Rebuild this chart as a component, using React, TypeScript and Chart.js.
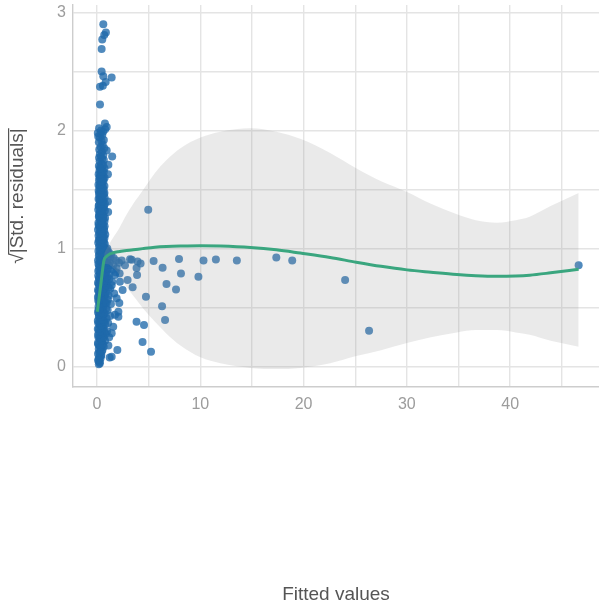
import React, { useEffect, useRef } from "react";
import { Chart, registerables } from "chart.js";

Chart.register(...registerables);

// Observations with small fitted values: [fitted, sqrt(|std. residual|)]
const lowFittedPoints: [number, number][] = [
  [0.18, 0.02], [0.26, 0.04], [0.12, 0.05], [0.34, 0.07], [0.21, 0.08], [0.42, 0.1], [0.1, 0.11], [0.3, 0.12], [0.52, 0.14], [0.17, 0.15],
  [0.4, 0.16], [0.65, 0.17], [0.24, 0.18], [0.09, 0.2], [0.5, 0.21], [0.78, 0.22], [0.33, 0.23], [0.14, 0.25], [0.6, 0.26], [0.44, 0.27],
  [0.86, 0.28], [0.2, 0.29], [0.7, 0.3], [0.08, 0.32], [0.38, 0.33], [0.55, 0.34], [0.27, 0.35], [0.8, 0.36], [0.12, 0.37], [0.47, 0.38],
  [0.66, 0.39], [0.31, 0.4], [0.93, 0.41], [0.18, 0.42], [0.58, 0.43], [0.41, 0.44], [0.75, 0.45], [0.1, 0.46], [0.26, 0.47], [0.5, 0.48],
  [0.88, 0.49], [0.36, 0.5], [0.15, 0.51], [0.63, 0.52], [0.45, 0.53], [0.82, 0.54], [0.22, 0.55], [0.55, 0.56], [1.05, 0.57], [0.33, 0.58],
  [0.09, 0.59], [0.72, 0.6], [0.48, 0.61], [0.27, 0.62], [0.9, 0.63], [0.16, 0.64], [0.6, 0.65], [0.4, 0.66], [1.12, 0.67], [0.78, 0.68],
  [0.23, 0.69], [0.52, 0.7], [0.1, 0.71], [0.95, 0.72], [0.36, 0.73], [0.68, 0.74], [0.19, 0.75], [0.83, 0.76], [0.46, 0.77], [1.2, 0.78],
  [0.29, 0.79], [0.62, 0.8], [0.12, 0.81], [1.0, 0.82], [0.41, 0.83], [0.74, 0.84], [0.2, 0.85], [1.15, 0.86], [0.55, 0.87], [0.88, 0.88],
  [0.32, 0.89], [0.1, 0.9], [0.66, 0.91], [1.25, 0.92], [0.44, 0.93], [0.8, 0.94], [0.24, 0.95], [1.08, 0.96], [0.57, 0.97], [0.14, 0.98],
  [0.92, 0.99], [0.38, 1.0], [0.7, 1.01], [0.2, 1.02], [0.5, 1.03], [0.76, 1.04], [0.12, 1.05], [0.36, 1.06], [0.62, 1.07], [0.26, 1.08],
  [0.72, 1.09], [0.45, 1.1], [0.15, 1.11], [0.8, 1.12], [0.56, 1.13], [0.32, 1.14], [0.7, 1.15], [0.1, 1.16], [0.48, 1.17], [0.22, 1.18],
  [0.74, 1.19], [0.6, 1.2], [0.38, 1.21], [0.14, 1.22], [0.72, 1.23], [0.5, 1.24], [0.28, 1.25], [0.78, 1.26], [0.18, 1.27], [0.62, 1.28],
  [0.42, 1.29], [1.08, 1.31], [0.24, 1.3], [0.76, 1.32], [0.12, 1.33], [0.54, 1.34], [0.34, 1.35], [0.68, 1.36], [0.2, 1.37], [0.76, 1.38],
  [0.46, 1.39], [0.28, 1.4], [1.06, 1.4], [0.6, 1.41], [0.15, 1.42], [0.74, 1.43], [0.4, 1.44], [0.22, 1.45], [0.55, 1.46], [0.72, 1.47],
  [0.32, 1.48], [0.16, 1.49], [0.64, 1.5], [0.42, 1.51], [0.25, 1.52], [0.72, 1.53], [0.14, 1.54], [0.52, 1.55], [0.34, 1.56], [0.62, 1.57],
  [0.2, 1.58], [0.45, 1.59], [0.74, 1.6], [0.28, 1.61], [0.56, 1.62], [1.06, 1.63], [0.16, 1.63], [0.38, 1.64], [0.66, 1.65], [0.24, 1.66],
  [0.5, 1.67], [0.72, 1.68], [0.32, 1.69], [1.1, 1.71], [0.18, 1.7], [0.58, 1.71], [0.42, 1.72], [0.26, 1.74], [0.66, 1.75], [0.5, 1.76],
  [0.2, 1.77], [1.47, 1.78], [0.38, 1.78], [0.6, 1.79], [0.28, 1.8], [0.48, 1.82], [0.94, 1.83], [0.22, 1.84], [0.7, 1.85], [0.36, 1.86],
  [0.55, 1.88], [0.18, 1.9], [0.44, 1.91], [0.66, 1.92], [0.28, 1.94], [0.12, 1.95], [0.5, 1.96], [0.34, 1.97], [0.08, 1.98], [0.6, 1.99],
  [0.4, 2.0], [0.79, 2.01], [0.94, 2.03], [0.2, 2.02], [0.77, 2.06], [0.29, 2.22], [0.29, 2.37], [0.57, 2.38], [0.84, 2.41], [1.42, 2.45],
  [0.61, 2.46], [0.45, 2.5], [0.45, 2.69], [0.51, 2.77], [0.7, 2.81], [0.86, 2.83], [0.61, 2.9],
];

// Further observations inside the dense low-fitted column
const lowFittedDense: [number, number][] = [
  [0.28, 0.03], [0.14, 0.06], [0.38, 0.09], [0.22, 0.12], [0.46, 0.13], [0.3, 0.17], [0.12, 0.19], [0.58, 0.19], [0.42, 0.22], [0.26, 0.24],
  [0.68, 0.25], [0.1, 0.27], [0.52, 0.29], [0.35, 0.3], [0.18, 0.32], [0.62, 0.33], [0.44, 0.35], [0.24, 0.37], [0.74, 0.38], [0.08, 0.39],
  [0.54, 0.4], [0.36, 0.42], [0.2, 0.44], [0.66, 0.45], [0.46, 0.46], [0.14, 0.48], [0.6, 0.49], [0.3, 0.5], [0.5, 0.51], [0.26, 0.53],
  [0.72, 0.55], [0.12, 0.56], [0.4, 0.57], [0.62, 0.59], [0.2, 0.6], [0.82, 0.61], [0.34, 0.62], [0.54, 0.63], [0.1, 0.65], [0.7, 0.66],
  [0.28, 0.67], [0.48, 0.68], [0.92, 0.69], [0.16, 0.7], [0.62, 0.71], [0.38, 0.72], [0.8, 0.73], [0.24, 0.74], [0.54, 0.75], [1.02, 0.76],
  [0.12, 0.77], [0.7, 0.78], [0.36, 0.79], [0.88, 0.8], [0.5, 0.81], [0.22, 0.82], [1.1, 0.83], [0.6, 0.84], [0.32, 0.85], [0.78, 0.86],
  [0.14, 0.87], [0.98, 0.88], [0.46, 0.89], [0.72, 0.9], [0.26, 0.91], [1.05, 0.92], [0.56, 0.93], [0.18, 0.94], [0.9, 0.95], [0.4, 0.96],
  [0.68, 0.97], [0.28, 0.99], [1.0, 1.0], [0.58, 1.01], [0.3, 1.03], [0.66, 1.05], [0.18, 1.07], [0.5, 1.08], [0.36, 1.1], [0.62, 1.11],
  [0.22, 1.13], [0.44, 1.15], [0.66, 1.17], [0.3, 1.19], [0.16, 1.2], [0.52, 1.22], [0.36, 1.24], [0.62, 1.26], [0.2, 1.28], [0.48, 1.3],
  [0.3, 1.32], [0.64, 1.34], [0.16, 1.36], [0.4, 1.38], [0.56, 1.4], [0.26, 1.42], [0.46, 1.45], [0.66, 1.46], [0.2, 1.47], [0.38, 1.5],
  [0.56, 1.52], [0.3, 1.54], [0.44, 1.57], [0.62, 1.59], [0.24, 1.6], [0.36, 1.63], [0.52, 1.65], [0.3, 1.68],
];

// Observations spreading out towards larger fitted values
const spreadPoints: [number, number][] = [
  [1.13, 0.97], [1.37, 0.95], [1.61, 0.92], [1.85, 0.9], [2.14, 0.88], [1.23, 0.88], [1.52, 0.82], [1.81, 0.8], [2.19, 0.79], [1.18, 0.74],
  [1.47, 0.72], [1.27, 0.66], [1.13, 0.6], [1.66, 0.62], [1.03, 0.48], [1.27, 0.43], [1.08, 0.37], [1.18, 0.25], [0.98, 0.3],
  [0.94, 0.54], [1.35, 0.53], [1.9, 0.58], [1.42, 0.69], [1.74, 0.776], [1.9, 0.833], [2.71, 0.86], [1.57, 0.86], [2.39, 0.9], [2.22, 0.72],
  [2.16, 0.54], [1.74, 0.44], [2.07, 0.423], [2.07, 0.466], [1.57, 0.339], [1.42, 0.283], [1.1, 0.18], [1.97, 0.141], [1.42, 0.085], [1.23, 0.078],
  [3.2, 0.91], [3.35, 0.905], [3.93, 0.89], [4.22, 0.875], [3.83, 0.835], [3.88, 0.776], [2.96, 0.734], [3.45, 0.672], [2.48, 0.65], [4.74, 0.593],
  [3.83, 0.38], [4.55, 0.353], [4.41, 0.21], [5.23, 0.126], [4.96, 1.33], [5.48, 0.895], [6.35, 0.838], [7.94, 0.913], [8.13, 0.79], [6.73, 0.7],
  [7.65, 0.654], [6.3, 0.512], [6.59, 0.395], [9.82, 0.762], [10.31, 0.9], [11.51, 0.907], [13.54, 0.9], [17.36, 0.925], [18.9, 0.9],
  [24.02, 0.735], [26.34, 0.305], [46.63, 0.86],
];

// Loess smoother and its confidence band
const smoothX = [0.03, 0.36, 0.675, 0.936, 1.255, 1.574, 2.066, 2.675, 3.515, 4.41, 5.61, 6.73, 8.08, 10.02, 11.95, 14.85, 17.36, 19.68, 22.57, 25.09, 27.5, 30.01, 32.33, 34.84, 36.68, 38.71, 40.54, 41.89, 43.92, 46.63];
const smoothFit = [0.465, 0.69, 0.9, 0.935, 0.955, 0.965, 0.974, 0.982, 0.99, 1.0, 1.012, 1.018, 1.022, 1.025, 1.022, 1.01, 0.99, 0.962, 0.925, 0.885, 0.85, 0.82, 0.8, 0.78, 0.77, 0.765, 0.768, 0.775, 0.795, 0.825];
const bandLower = [0.44, 0.665, 0.865, 0.87, 0.86, 0.835, 0.79, 0.7, 0.6, 0.5, 0.38, 0.28, 0.18, 0.08, 0.03, -0.01, -0.02, -0.01, 0.03, 0.09, 0.14, 0.2, 0.25, 0.29, 0.31, 0.31, 0.29, 0.27, 0.22, 0.17];
const bandUpper = [0.49, 0.715, 0.935, 1.0, 1.05, 1.095, 1.16, 1.26, 1.38, 1.49, 1.64, 1.75, 1.85, 1.94, 1.99, 2.02, 1.99, 1.93, 1.81, 1.68, 1.57, 1.48, 1.38, 1.29, 1.24, 1.22, 1.24, 1.27, 1.36, 1.47];

const xLabelTicks = [0, 10, 20, 30, 40];
const yLabelTicks = [0, 1, 2, 3];

const W = 599;
const H = 610;
const FONT = '"Liberation Sans", Arial, Helvetica, sans-serif';
const PLOT_LEFT = 73;
const PLOT_TOP = 5;
const PLOT_BOTTOM = 386.7;
const X_MIN = -2.323;
const X_MAX = 48.6;
const Y_MIN = -0.1693;
const Y_MAX = 3.063;

const GRID = "#e4e4e4";
const AXIS = "#cdcdcd";
const TICK_TEXT = "#9c9c9c";
const TITLE_TEXT = "#555555";

// y-axis title: radical sign with a vinculum over "|Std. residuals|"
const rootTitlePlugin = {
  id: "rootResidualTitle",
  afterDraw(chart: Chart) {
    const ctx = chart.ctx;
    const fs = 19;
    ctx.save();
    ctx.translate(23, 196);
    ctx.rotate(-Math.PI / 2);
    ctx.font = `${fs}px ${FONT}`;
    ctx.fillStyle = TITLE_TEXT;
    ctx.textAlign = "left";
    ctx.textBaseline = "alphabetic";
    const rad = "\u221A";
    const body = "|Std. residuals|";
    const wr = ctx.measureText(rad).width;
    const wb = ctx.measureText(body).width;
    const x0 = -(wr + wb) / 2;
    ctx.fillText(rad, x0, 0);
    ctx.fillText(body, x0 + wr, 0);
    const top = -ctx.measureText(rad).actualBoundingBoxAscent;
    ctx.strokeStyle = TITLE_TEXT;
    ctx.lineWidth = 1.2;
    ctx.beginPath();
    ctx.moveTo(x0 + wr - 1, top + 0.6);
    ctx.lineTo(x0 + wr + wb, top + 0.6);
    ctx.stroke();
    ctx.restore();
  },
};

export default function App() {
  const canvasRef = useRef<HTMLCanvasElement | null>(null);

  useEffect(() => {
    if (!canvasRef.current) return;
    const pts = [...lowFittedPoints, ...lowFittedDense, ...spreadPoints].map(([x, y]) => ({ x, y }));
    const chart = new Chart(canvasRef.current, {
      type: "scatter",
      data: {
        datasets: [
          {
            type: "line",
            data: smoothX.map((x, i) => ({ x, y: bandUpper[i] })),
            borderWidth: 0,
            pointRadius: 0,
            fill: "+1",
            backgroundColor: "rgba(150,150,150,0.2)",
            cubicInterpolationMode: "monotone",
            order: 1,
          },
          {
            type: "line",
            data: smoothX.map((x, i) => ({ x, y: bandLower[i] })),
            borderWidth: 0,
            pointRadius: 0,
            fill: false,
            cubicInterpolationMode: "monotone",
            order: 1,
          },
          {
            type: "line",
            data: smoothX.map((x, i) => ({ x, y: smoothFit[i] })),
            borderColor: "#3aa67f",
            borderWidth: 3,
            pointRadius: 0,
            fill: false,
            cubicInterpolationMode: "monotone",
            order: 0,
          },
          {
            type: "scatter",
            data: pts,
            pointRadius: 4,
            pointBackgroundColor: "rgba(31,105,170,0.78)",
            pointBorderWidth: 0,
            order: 2,
          },
        ],
      },
      options: {
        responsive: false,
        animation: false,
        events: [],
        layout: { autoPadding: false, padding: { top: PLOT_TOP, right: 0, bottom: 0, left: 0 } },
        plugins: { legend: { display: false }, tooltip: { enabled: false } },
        scales: {
          x: {
            type: "linear",
            min: X_MIN,
            max: X_MAX,
            afterFit(scale: any) {
              scale.height = H - PLOT_BOTTOM;
              scale.paddingLeft = 0;
              scale.paddingRight = 0;
            },
            grid: { color: GRID, lineWidth: 1.4, drawTicks: false },
            border: { display: true, color: AXIS, width: 1.4 },
            ticks: {
              stepSize: 5,
              autoSkip: false,
              includeBounds: false,
              maxRotation: 0,
              padding: 8,
              color: TICK_TEXT,
              font: { family: FONT, size: 16 },
              callback: (v: any) => (xLabelTicks.includes(Number(v)) ? String(v) : ""),
            },
            title: {
              display: true,
              text: "Fitted values",
              color: TITLE_TEXT,
              font: { family: FONT, size: 19 },
              padding: { top: 0, bottom: 3.6 },
            },
          },
          y: {
            type: "linear",
            min: Y_MIN,
            max: Y_MAX,
            afterFit(scale: any) {
              scale.width = PLOT_LEFT;
              scale.paddingTop = 0;
              scale.paddingBottom = 0;
            },
            grid: { color: GRID, lineWidth: 1.4, drawTicks: false },
            border: { display: true, color: AXIS, width: 1.4 },
            ticks: {
              stepSize: 0.5,
              autoSkip: false,
              includeBounds: false,
              padding: 7,
              color: TICK_TEXT,
              font: { family: FONT, size: 16 },
              callback: (v: any) => (yLabelTicks.includes(Number(v)) ? String(v) : ""),
            },
          },
        },
      },
      plugins: [rootTitlePlugin],
    } as any);
    return () => chart.destroy();
  }, []);

  return (
    <div style={{ position: "absolute", left: 0, top: 0, width: W, height: H, background: "#ffffff" }}>
      <canvas ref={canvasRef} width={W} height={H} style={{ display: "block", width: W, height: H }} />
    </div>
  );
}
